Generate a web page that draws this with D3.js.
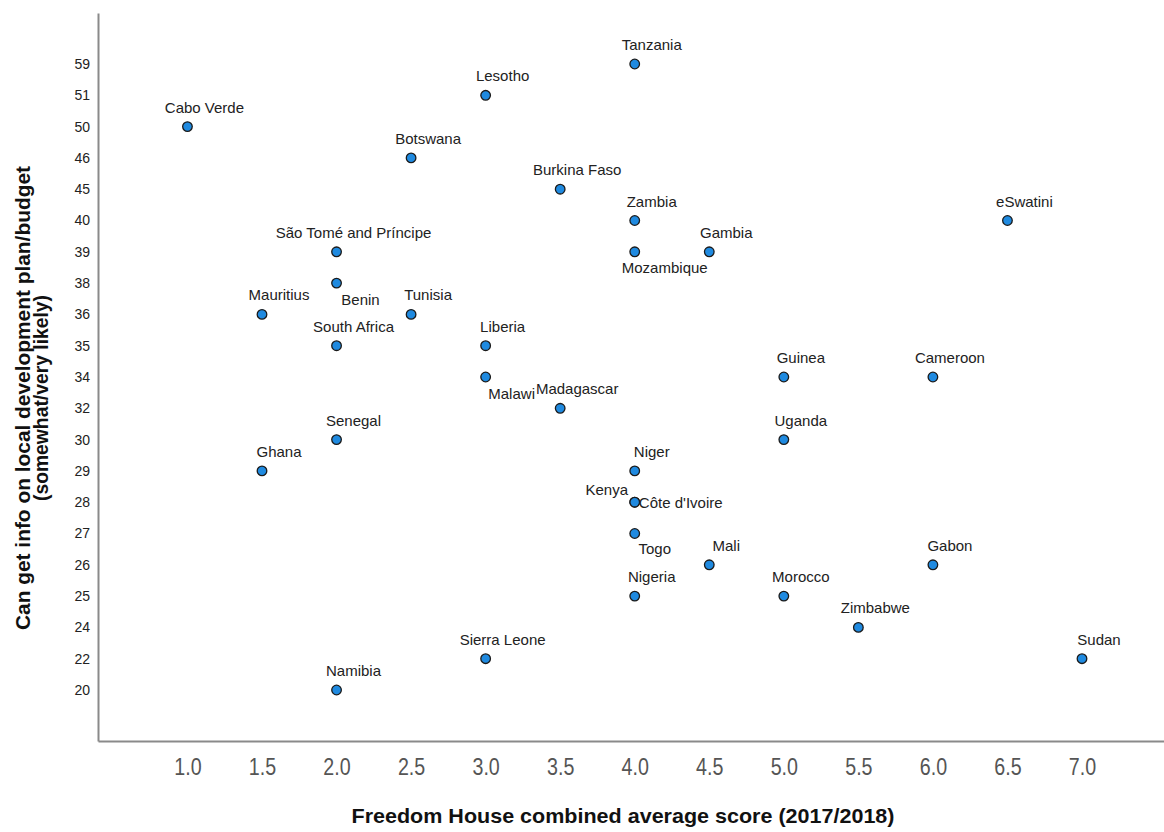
<!DOCTYPE html>
<html>
<head>
<meta charset="utf-8">
<script src="https://cdn.jsdelivr.net/npm/d3@7"></script>
<style>
  html, body { margin: 0; padding: 0; background: #fff; }
  svg { display: block; }
  text { font-family: "Liberation Sans", Arial, sans-serif; }
</style>
</head>
<body>
<svg id="chart" width="1164" height="832"></svg>
<script>
// Countries, Freedom House score and share who can get info on local plans/budgets
const countries = [
  "Cabo Verde", "Lesotho", "Tanzania", "Botswana", "Burkina Faso", "Zambia",
  "eSwatini", "São Tomé and Príncipe", "Gambia", "Mozambique", "Benin",
  "Mauritius", "Tunisia", "South Africa", "Liberia", "Malawi", "Madagascar",
  "Guinea", "Cameroon", "Senegal", "Uganda", "Ghana", "Niger", "Kenya",
  "Côte d'Ivoire", "Togo", "Mali", "Gabon", "Nigeria", "Morocco", "Zimbabwe",
  "Sierra Leone", "Sudan", "Namibia"
];
const freedomScores = [
  1.0, 3.0, 4.0, 2.5, 3.5, 4.0,
  6.5, 2.0, 4.5, 4.0, 2.0,
  1.5, 2.5, 2.0, 3.0, 3.0, 3.5,
  5.0, 6.0, 2.0, 5.0, 1.5, 4.0, 4.0,
  4.0, 4.0, 4.5, 6.0, 4.0, 5.0, 5.5,
  3.0, 7.0, 2.0
];
const infoShares = [
  50, 51, 59, 46, 45, 40,
  40, 39, 39, 39, 38,
  36, 36, 35, 35, 34, 32,
  34, 34, 30, 30, 29, 29, 28,
  28, 27, 26, 26, 25, 25, 24,
  22, 22, 20
];
// Distinct response levels shown on the vertical axis (ordinal)
const yCategories = [20, 22, 24, 25, 26, 27, 28, 29, 30, 32, 34, 35, 36, 38, 39, 40, 45, 46, 50, 51, 59];
const xTicks = [1.0, 1.5, 2.0, 2.5, 3.0, 3.5, 4.0, 4.5, 5.0, 5.5, 6.0, 6.5, 7.0];

const xTitle = "Freedom House combined average score (2017/2018)";
const yTitleLines = ["Can get info on local development plan/budget", "(somewhat/very likely)"];

// Label offsets (pixels) for points whose label is not placed above
const labelOffsets = {
  "Benin": { dx: 24, dy: 22 },
  "Mozambique": { dx: 30, dy: 21 },
  "Malawi": { dx: 26, dy: 22 },
  "Togo": { dx: 20, dy: 21 },
  "Kenya": { dx: -28, dy: -7 },
  "Côte d'Ivoire": { dx: 46, dy: 6 }
};
const defaultOffset = { dx: 17, dy: -14 };

const data = countries.map((c, i) => ({ name: c, x: freedomScores[i], y: infoShares[i] }));

const svg = d3.select("#chart");
const plotLeft = 98, plotRight = 1164, plotTop = 13, plotBottom = 741;

const x = d3.scaleLinear().domain([0.4, 7.55]).range([plotLeft, plotRight]);
const y = d3.scalePoint().domain(yCategories).range([plotBottom, plotTop]).padding(1.63);

// Axes
const xAxis = svg.append("g")
  .attr("transform", `translate(0,${plotBottom})`)
  .call(d3.axisBottom(x).tickValues(xTicks).tickFormat(d3.format(".1f")).tickSize(0).tickSizeOuter(0).tickPadding(0));
xAxis.select(".domain").attr("stroke", "#8a8a8a").attr("stroke-width", 2);
xAxis.selectAll(".tick text")
  .attr("y", 34)
  .attr("dy", 0)
  .attr("transform", "scale(0.82,1)")
  .attr("fill", "#555")
  .style("font-size", "24px");

const yAxis = svg.append("g")
  .attr("transform", `translate(${plotLeft},0)`)
  .call(d3.axisLeft(y).tickSize(0).tickSizeOuter(0).tickPadding(8));
yAxis.select(".domain").attr("stroke", "#8a8a8a").attr("stroke-width", 2);
yAxis.selectAll(".tick text")
  .attr("fill", "#222")
  .style("font-size", "14px");

// Axis titles
svg.append("text")
  .attr("x", 623).attr("y", 823)
  .attr("text-anchor", "middle")
  .attr("textLength", 543).attr("lengthAdjust", "spacingAndGlyphs")
  .style("font-size", "21px").style("font-weight", "bold").attr("fill", "#111")
  .text(xTitle);

const yTitle = svg.append("g").attr("transform", "translate(0,398) rotate(-90)");
yTitle.append("text")
  .attr("x", 0).attr("y", 30)
  .attr("text-anchor", "middle")
  .attr("textLength", 464).attr("lengthAdjust", "spacingAndGlyphs")
  .style("font-size", "20px").style("font-weight", "bold").attr("fill", "#111")
  .text(yTitleLines[0]);
yTitle.append("text")
  .attr("x", 0).attr("y", 48)
  .attr("text-anchor", "middle")
  .attr("textLength", 206).attr("lengthAdjust", "spacingAndGlyphs")
  .style("font-size", "20px").style("font-weight", "bold").attr("fill", "#111")
  .text(yTitleLines[1]);

// Points
svg.append("g").selectAll("circle")
  .data(data)
  .join("circle")
  .attr("cx", d => x(d.x))
  .attr("cy", d => y(d.y))
  .attr("r", 4.8)
  .attr("fill", "#1f8ae0")
  .attr("stroke", "#1a1a1a")
  .attr("stroke-width", 1.3);

// Point labels
const offsetOf = d => labelOffsets[d.name] || defaultOffset;
svg.append("g").selectAll("text")
  .data(data)
  .join("text")
  .attr("x", d => x(d.x) + offsetOf(d).dx)
  .attr("y", d => y(d.y) + offsetOf(d).dy)
  .attr("text-anchor", "middle")
  .attr("fill", "#222")
  .style("font-size", "15px")
  .text(d => d.name);
</script>
</body>
</html>
